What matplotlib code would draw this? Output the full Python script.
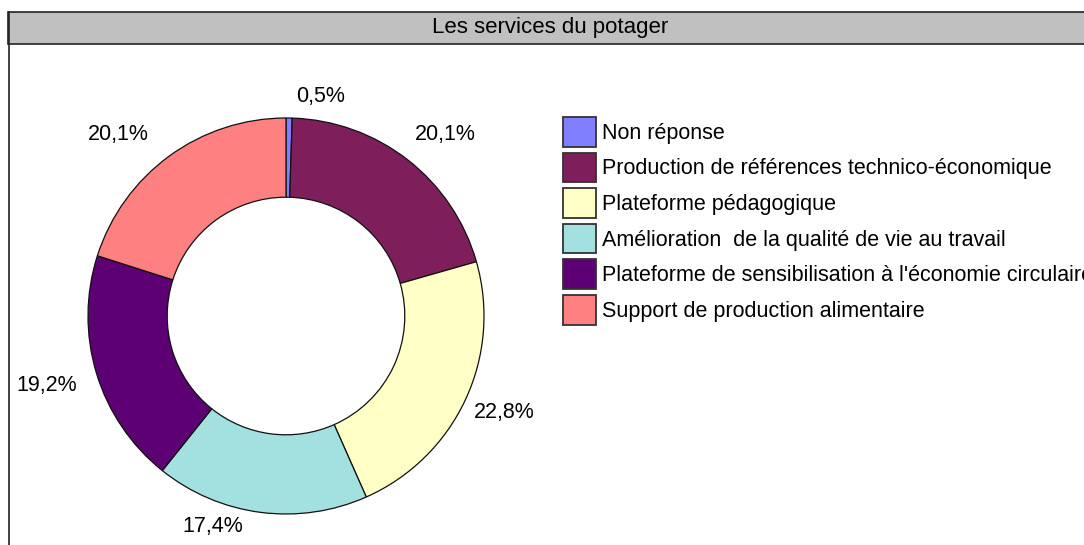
import numpy as np
import matplotlib.pyplot as plt
from matplotlib.patches import Rectangle
from matplotlib.lines import Line2D

# données du graphique
categories = [
    "Non réponse",
    "Production de références technico-économique",
    "Plateforme pédagogique",
    "Amélioration  de la qualité de vie au travail",
    "Plateforme de sensibilisation à l'économie circulaire",
    "Support de production alimentaire",
]
valeurs = [0.5, 20.1, 22.8, 17.4, 19.2, 20.1]
couleurs = ["#8080FF", "#7E1F5C", "#FFFFC6", "#A3E0E0", "#5C0073", "#FF8080"]
titre = "Les services du potager"

W, H = 1084, 545
plt.rcParams["font.family"] = ["Liberation Sans", "DejaVu Sans"]

fig = plt.figure(figsize=(W / 100, H / 100), dpi=100)

# cadre + bandeau de titre
fig.add_artist(Rectangle((8 / W, 1 - 44 / H), 1.1, 32 / H, transform=fig.transFigure,
                         facecolor="#C0C0C0", edgecolor="#222222", linewidth=1.2))
fig.add_artist(Line2D([8.5 / W, 8.5 / W], [0, 1 - 12 / H], transform=fig.transFigure,
                      color="#222222", linewidth=1.2))
fig.text(550 / W, 1 - 28 / H, titre, ha="center", va="center", fontsize=16)

# anneau
cx, cy, r = 286, 316, 198
box = 240
ax = fig.add_axes([(cx - box) / W, (H - cy - box) / H, 2 * box / W, 2 * box / H])
wedges, _ = ax.pie(valeurs, colors=couleurs, startangle=90, counterclock=False,
                   radius=1, wedgeprops=dict(width=0.4, edgecolor="#111111", linewidth=0.9))
lim = box / r
ax.set_xlim(-lim, lim)
ax.set_ylim(-lim, lim)
ax.set_aspect("equal")
ax.axis("off")

# position des étiquettes : distance et décalage angulaire (comme Excel)
dists = [1.115, 1.21, 1.21, 1.134, 1.26, 1.244]
decal = [-8.2, -3.6, 0.8, -11.6, -0.1, 6.9]
for w, v, d, da in zip(wedges, valeurs, dists, decal):
    ang = np.deg2rad((w.theta1 + w.theta2) / 2 + da)
    txt = f"{v:.1f}".replace(".", ",") + "%"
    ax.text(d * np.cos(ang), d * np.sin(ang) + 0.01, txt, ha="center", va="center",
            fontsize=15.5)

# légende
leg = fig.legend(wedges, categories, loc="upper left", bbox_to_anchor=(563 / W, 1 - 117 / H),
                 frameon=False, fontsize=15.5, handlelength=1.53, handleheight=1.75,
                 handletextpad=0.28, labelspacing=0.27, borderpad=0, borderaxespad=0)
for p in leg.get_patches():
    p.set_edgecolor("#333333")
    p.set_linewidth(1.3)

fig.savefig("out.png", dpi=100)
